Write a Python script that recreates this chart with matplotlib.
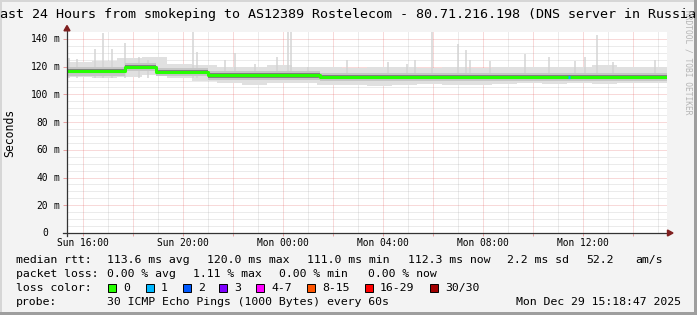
import matplotlib
matplotlib.use('Agg')
import matplotlib.pyplot as plt
from matplotlib.patches import Rectangle, Polygon
from matplotlib.transforms import offset_copy
import numpy as np

W, H = 697, 315
plt.rcParams['font.family'] = 'DejaVu Sans Mono'

# x axis is hours since the window start (Sun 15:21)
# median rtt, stepwise (start hour -> ms)
median_start_h = [0.0, 2.32, 3.55, 5.65, 10.12]
median_ms = [117.0, 120.0, 116.5, 114.0, 112.8]

# smoke spread per hour (ms)
smoke_hi = [123, 124, 126, 127, 122, 121, 120, 120, 121, 120, 119.5, 119,
            119.5, 120, 119, 120, 119, 120, 119.5, 119.5, 120, 121, 119.5, 119.5]
smoke_lo = [112.5, 112, 112.5, 114, 112, 110, 108.5, 107, 108, 108.5, 107, 106.5,
            106, 107, 107.5, 107, 107, 107.5, 108, 107.5, 108, 107.5, 108, 108]

# single outlier pings
spike_h = [0.08, 0.39, 1.12, 1.43, 1.79, 2.32, 2.88, 3.24, 5.04, 5.19, 6.32, 6.72,
           7.52, 8.39, 8.83, 8.96, 9.64, 11.19, 12.83, 13.59, 13.92, 14.59, 15.63,
           15.96, 16.12, 16.92, 18.32, 19.29, 20.32, 20.72, 21.19, 21.85, 23.52]
spike_ms = [126, 125.7, 133, 144, 133, 137, 127, 125, 145, 130.5, 125, 130,
            122, 127, 145, 145, 120, 124.5, 123, 122, 125, 145, 136.6,
            131.7, 125, 124, 129, 127, 124, 127, 142.6, 123, 125]

# steps with packet loss (hour, lost pings)
loss_h = [20.04]
loss_n = [1]

ytick_ms = [0, 20, 40, 60, 80, 100, 120, 140]
ytick_num = ['0', '20', '40', '60', '80', '100', '120', '140']
xtick_labels = ['Sun 16:00', 'Sun 20:00', 'Mon 00:00', 'Mon 04:00', 'Mon 08:00', 'Mon 12:00']
first_tick_h = 0.65

loss_names = ['0', '1', '2', '3', '4-7', '8-15', '16-29', '30/30']
loss_colors = ['#26ff00', '#00b8ff', '#0059ff', '#7e00ff', '#ff00ff', '#ff5500', '#ff0000', '#a10000']
loss_box_x = [108.3, 145.7, 182.7, 219.3, 256, 307.3, 365, 430]

title = 'Last 24 Hours from smokeping to AS12389 Rostelecom - 80.71.216.198 (DNS server in Russia)'
rtt_fields = ['median rtt:', '113.6 ms avg', '120.0 ms max', '111.0 ms min', '112.3 ms now',
              '2.2 ms sd', '52.2', 'am/s']
rtt_x = [16, 107.3, 207.3, 307.3, 408.3, 506.7, 586.7, 635]
loss_fields = ['packet loss:', '0.00 % avg', '1.11 % max', '0.00 % min', '0.00 % now']
loss_x = [16, 107.3, 192.7, 279, 368.3]
probe_fields = ['probe:', '30 ICMP Echo Pings (1000 Bytes) every 60s']
probe_x = [16, 107.3]
stamp = 'Mon Dec 29 15:18:47 2025'


def P(x, y):
    # pixel position (from top left) -> figure fraction
    return x / W, 1 - y / H


fig = plt.figure(figsize=(W / 100, H / 100), dpi=100, facecolor='#f3f3f3')
ax = fig.add_axes([67 / W, (H - 233) / H, 600 / W, 201 / H])
ax.set_facecolor('white')
ax.set_xlim(0, 24)
ax.set_ylim(0, 145)
for s in ax.spines.values():
    s.set_visible(False)

# grid
mgrid = dict(color='#e25a5a', alpha=0.45, lw=0.72, linestyle=(0, (1, 1)))
grid = dict(color='#8f8f8f', alpha=0.35, lw=0.72, linestyle=(0, (1, 1)))
xmaj = np.arange(first_tick_h, 24, 2)
xmin = np.arange(first_tick_h + 1, 24, 2)
ax.set_xticks(xmaj)
ax.set_xticklabels([xtick_labels[i // 2] if i % 2 == 0 else '' for i in range(len(xmaj))])
ax.set_xticks(xmin, minor=True)
ax.set_yticks(ytick_ms)
ax.set_yticklabels([])
ax.set_yticks([v for v in range(5, 145, 5) if v % 20], minor=True)
ax.grid(which='major', **mgrid)
ax.grid(which='minor', **grid)
ax.tick_params(axis='x', which='major', length=2.2, width=0.72, color='#e8a0a0',
               labelsize=6.9, pad=1.2)
ax.tick_params(axis='x', which='minor', length=0)
ax.tick_params(axis='y', which='major', length=2.9, width=0.72, color='#e8a0a0')
ax.tick_params(axis='y', which='minor', length=0)
ax.set_axisbelow(True)

# smoke
hx = np.arange(25)
ax.fill_between(hx, smoke_lo + [smoke_lo[-1]], smoke_hi + [smoke_hi[-1]],
                step='post', color='#e0e0e0', lw=0, zorder=2)
ax.vlines(spike_h, 112, spike_ms, color='#d4d4d4', lw=1.1, zorder=2)
mx = median_start_h + [24]
my = np.array(median_ms + [median_ms[-1]])
ax.fill_between(mx, my - 3.4, my + 2.8, step='post', color='#c6c6c6', lw=0, zorder=3)
ax.fill_between(mx, my - 1.9, my + 1.3, step='post', color='#808080', lw=0, zorder=3)

# median line coloured by loss
ax.plot(mx, my, drawstyle='steps-post', color=loss_colors[0], lw=2.2, zorder=4,
        solid_capstyle='butt')
for h, n in zip(loss_h, loss_n):
    seg = np.searchsorted(median_start_h, h) - 1
    ax.plot([h, h + 1 / 12], [median_ms[seg]] * 2, color=loss_colors[n], lw=2.2, zorder=5,
            solid_capstyle='butt')

# y labels like rrdtool: number column + unit
ytr = offset_copy(ax.get_yaxis_transform(), fig=fig, x=0, y=-3.5, units='dots')
for v, t in zip(ytick_ms, ytick_num):
    ax.text(-19.2 / 600, v, t, transform=ytr, ha='right', va='baseline', fontsize=6.9)
    if v:
        ax.text(-13.8 / 600, v, 'm', transform=ytr, ha='left', va='baseline', fontsize=6.9)

# axes with arrows
axc = '#333333'
arrow = '#7f1f1f'
ax.plot([-4 / 600, 1 + 1 / 600], [0, 0], transform=ax.transAxes, color=axc, lw=0.9,
        clip_on=False, zorder=6)
ax.plot([0, 0], [-3 / 201, 1.006], transform=ax.transAxes, color=axc, lw=0.9,
        clip_on=False, zorder=6)
ax.add_patch(Polygon([[1 + 0.5 / 600, 3 / 201], [1 + 0.5 / 600, -3 / 201], [1 + 6 / 600, 0]],
                     closed=True, transform=ax.transAxes, color=arrow, clip_on=False, zorder=7))
ax.add_patch(Polygon([[-3 / 600, 1.006], [3 / 600, 1.006], [0, 1 + 6.5 / 201]],
                     closed=True, transform=ax.transAxes, color=arrow, clip_on=False, zorder=7))

fig.text(*P(10, 133), 'Seconds', rotation=90, ha='center', va='center', fontsize=8.3)

# title and legend
fs = 8.27
fig.text(*P(347.5, 18.3), title, ha='center', va='baseline', fontsize=9.65)
for x, t in zip(rtt_x, rtt_fields):
    fig.text(*P(x, 263.3), t, ha='left', va='baseline', fontsize=fs)
for x, t in zip(loss_x, loss_fields):
    fig.text(*P(x, 277.3), t, ha='left', va='baseline', fontsize=fs)
fig.text(*P(16, 291.2), 'loss color:', ha='left', va='baseline', fontsize=fs)
for bx, name, c in zip(loss_box_x, loss_names, loss_colors):
    fig.add_artist(Rectangle(P(bx, 291.7), 8 / W, 8 / H, transform=fig.transFigure,
                             facecolor=c, edgecolor='black', lw=0.7))
    fig.text(*P(bx + 15, 291.2), name, ha='left', va='baseline', fontsize=fs)
for x, t in zip(probe_x, probe_fields):
    fig.text(*P(x, 305), t, ha='left', va='baseline', fontsize=fs)
fig.text(*P(681, 305), stamp, ha='right', va='baseline', fontsize=fs)

fig.text(*P(688, 62), 'RRDTOOL / TOBI OETIKER', rotation=-90, ha='center', va='center',
         fontsize=5.7, color='#b4b4b4')

# 3d frame
fig.add_artist(Rectangle((0, 0), 2 / W, 1, transform=fig.transFigure, color='#d6d6d6', lw=0))
fig.add_artist(Rectangle((0, 1 - 2 / H), 1, 2 / H, transform=fig.transFigure, color='#d6d6d6', lw=0))
fig.add_artist(Rectangle((1 - 3 / W, 0), 3 / W, 1, transform=fig.transFigure, color='#9e9e9e', lw=0))
fig.add_artist(Rectangle((0, 0), 1, 3 / H, transform=fig.transFigure, color='#9e9e9e', lw=0))

fig.savefig('out.png', dpi=100, facecolor=fig.get_facecolor())
